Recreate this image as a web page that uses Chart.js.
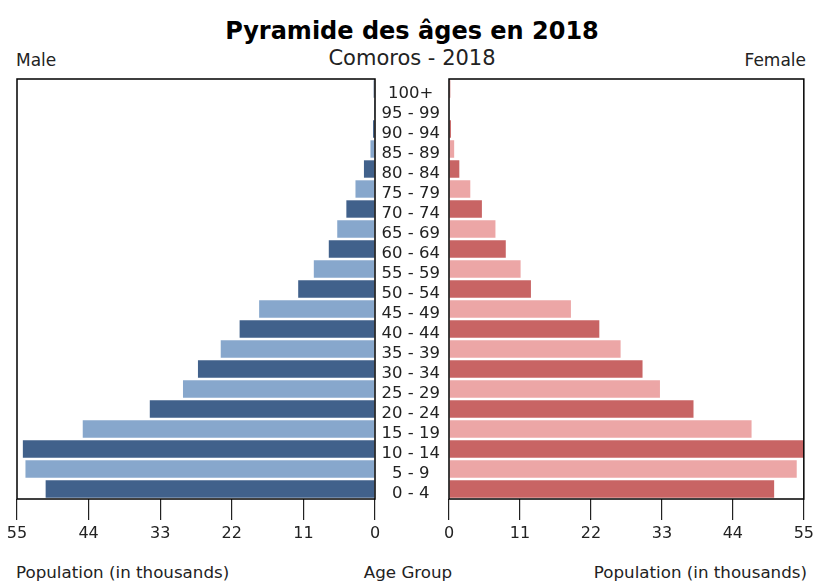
<!DOCTYPE html>
<html>
<head>
<meta charset="utf-8">
<script src="https://cdn.jsdelivr.net/npm/chart.js@4.4.1/dist/chart.umd.min.js"></script>
<style>
  body { margin: 0; background: #fff; font-family: 'DejaVu Sans', sans-serif; color: #222; }
  #page { position: relative; width: 818px; height: 582px; overflow: hidden; }
  .txt { position: absolute; white-space: nowrap; line-height: 1; }
  .box { position: absolute; top: 0; }
</style>
</head>
<body>
<div id="page">
  <div class="txt" style="left:0;width:824px;text-align:center;top:19px;font-size:24px;font-weight:bold;color:#000;">Pyramide des âges en 2018</div>
  <div class="txt" style="left:0;width:824px;text-align:center;top:48px;font-size:21px;">Comoros - 2018</div>
  <div class="txt" style="left:16px;top:52px;font-size:17px;">Male</div>
  <div class="txt" style="right:12px;top:52px;font-size:17px;">Female</div>
  <div class="txt" style="left:16px;top:564px;font-size:16.7px;">Population (in thousands)</div>
  <div class="txt" style="left:0;width:816px;text-align:center;top:564px;font-size:16.7px;">Age Group</div>
  <div class="txt" style="right:11px;top:564px;font-size:16.7px;">Population (in thousands)</div>
  <div class="box" style="left:0;width:390px;height:560px;"><canvas id="maleChart"></canvas></div>
  <div class="box" style="left:375px;width:443px;height:560px;"><canvas id="femaleChart"></canvas></div>
</div>
<script>
const ageGroups = ['0 - 4', '5 - 9', '10 - 14', '15 - 19', '20 - 24', '25 - 29', '30 - 34', '35 - 39',
  '40 - 44', '45 - 49', '50 - 54', '55 - 59', '60 - 64', '65 - 69', '70 - 74', '75 - 79',
  '80 - 84', '85 - 89', '90 - 94', '95 - 99', '100+'];
const maleValues = [50.6, 53.7, 54.1, 44.9, 34.6, 29.5, 27.2, 23.7, 20.8, 17.8, 11.8,
  9.4, 7.1, 5.8, 4.4, 3.0, 1.7, 0.7, 0.3, 0.15, 0.2];
const femaleValues = [50.4, 53.9, 55.2, 46.9, 37.9, 32.7, 30.0, 26.6, 23.3, 18.9, 12.7,
  11.1, 8.8, 7.2, 5.1, 3.3, 1.6, 0.8, 0.3, 0.1, 0.2];
const xTicks = [0, 11, 22, 33, 44, 55];

const maleColors = ['#41618b', '#87a7cc'];
const femaleColors = ['#c86464', '#eca6a6'];

// cadre noir autour de la zone de tracé
const frame = {
  id: 'frame',
  afterDraw(chart) {
    const a = chart.chartArea;
    const ctx = chart.ctx;
    ctx.save();
    ctx.strokeStyle = '#000';
    ctx.lineWidth = 1.5;
    ctx.strokeRect(a.left, a.top, a.right - a.left, a.bottom - a.top);
    ctx.restore();
  }
};

function xScale(reverse) {
  return {
    type: 'linear',
    reverse: reverse,
    min: 0,
    max: 55,
    afterBuildTicks: (s) => { s.ticks = xTicks.map(v => ({ value: v })); },
    afterFit: (s) => { s.height = 61; },
    border: { display: false },
    grid: { drawOnChartArea: false, drawTicks: true, tickLength: 21, color: '#222', lineWidth: 1.2 },
    ticks: { color: '#222', padding: 4, font: { family: 'DejaVu Sans', size: 16 }, maxRotation: 0 }
  };
}

function barData(values, colors) {
  return {
    labels: ageGroups,
    datasets: [{
      data: values,
      backgroundColor: values.map((v, i) => colors[i % 2]),
      borderWidth: 0,
      barPercentage: 0.87,
      categoryPercentage: 1
    }]
  };
}

Chart.defaults.font.family = 'DejaVu Sans';

new Chart(document.getElementById('maleChart'), {
  type: 'bar',
  data: barData(maleValues, maleColors),
  options: {
    indexAxis: 'y',
    responsive: true,
    maintainAspectRatio: false,
    animation: false,
    layout: { padding: { left: 17, right: 15, top: 79, bottom: 0 } },
    plugins: { legend: { display: false }, tooltip: { enabled: false } },
    scales: {
      x: xScale(true),
      y: { reverse: true, display: false }
    }
  },
  plugins: [frame]
});

new Chart(document.getElementById('femaleChart'), {
  type: 'bar',
  data: barData(femaleValues, femaleColors),
  options: {
    indexAxis: 'y',
    responsive: true,
    maintainAspectRatio: false,
    animation: false,
    layout: { padding: { left: 0, right: 12, top: 79, bottom: 0 } },
    plugins: { legend: { display: false }, tooltip: { enabled: false } },
    scales: {
      x: xScale(false),
      y: {
        reverse: true,
        afterFit: (s) => { s.width = 74; },
        grid: { display: false },
        border: { display: false },
        ticks: { color: '#222', padding: 1, labelOffset: 5, crossAlign: 'center', font: { family: 'DejaVu Sans', size: 16.5 }, autoSkip: false }
      }
    }
  },
  plugins: [frame]
});
</script>
</body>
</html>
